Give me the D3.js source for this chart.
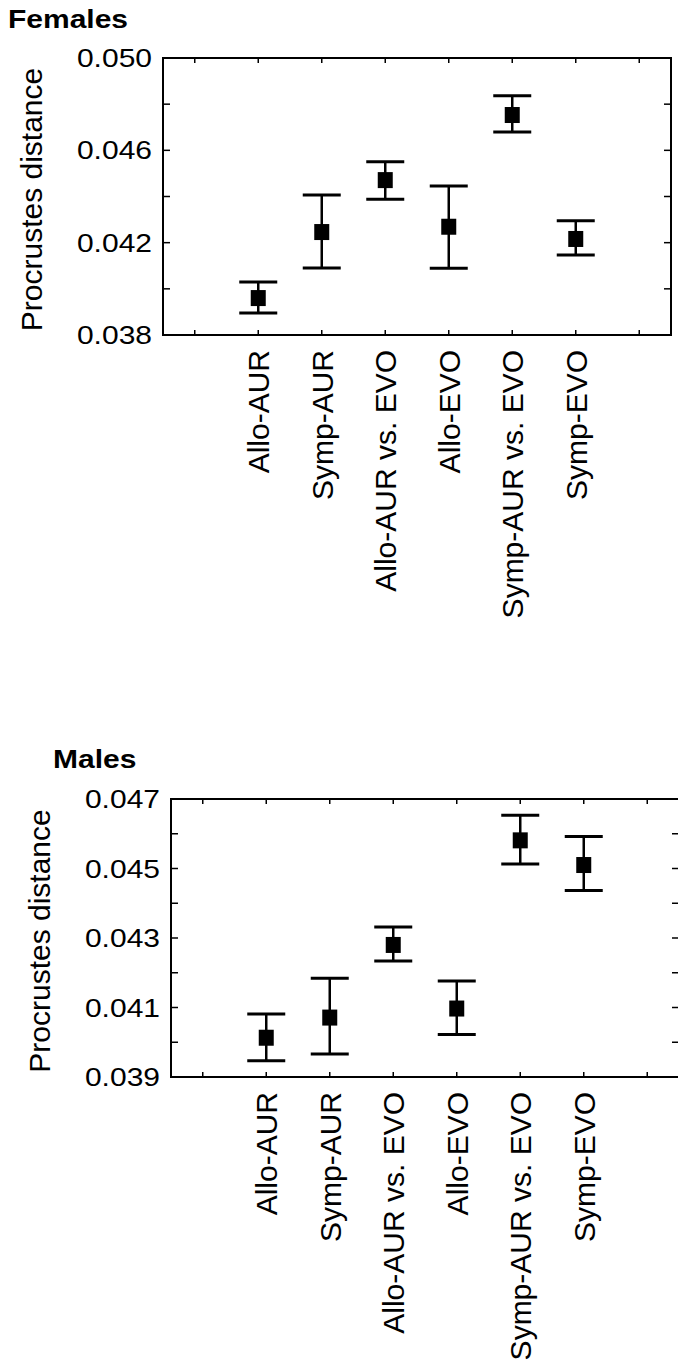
<!DOCTYPE html>
<html>
<head>
<meta charset="utf-8">
<script src="https://cdn.jsdelivr.net/npm/d3@7"></script>
<style>
  html, body { margin: 0; padding: 0; background: #fff; }
  svg { display: block; font-family: "Liberation Sans", Arial, sans-serif; }
</style>
</head>
<body>
<svg id="chart" width="678" height="1362"></svg>
<script>
// ---------- data ----------
const categories = ["Allo-AUR", "Symp-AUR", "Allo-AUR vs. EVO", "Allo-EVO", "Symp-AUR vs. EVO", "Symp-EVO"];

const femalesMean  = [0.03960, 0.04246, 0.04471, 0.04269, 0.04753, 0.04216];
const femalesUpper = [0.04030, 0.04407, 0.04551, 0.04445, 0.04837, 0.04295];
const femalesLower = [0.03895, 0.04090, 0.04388, 0.04089, 0.04679, 0.04147];

const malesMean  = [0.04013, 0.04071, 0.04280, 0.04097, 0.04581, 0.04510];
const malesUpper = [0.04081, 0.04184, 0.04332, 0.04176, 0.04653, 0.04592];
const malesLower = [0.03947, 0.03966, 0.04234, 0.04022, 0.04513, 0.04437];

const femalesTickLabels = [0.038, 0.042, 0.046, 0.050];
const femalesMinorTicks = [0.038, 0.040, 0.042, 0.044, 0.046, 0.048, 0.050];
const malesTickLabels = [0.039, 0.041, 0.043, 0.045, 0.047];
const malesMinorTicks = [0.039, 0.040, 0.041, 0.042, 0.043, 0.044, 0.045, 0.046, 0.047];

const femalesDomain = [0.038, 0.050];
const malesDomain = [0.039, 0.047];

const slots = ["pad-left", ...categories, "pad-right"];

// ---------- drawing ----------
const svg = d3.select("#chart");

function panel(cfg) {
  const g = svg.append("g");
  const x = d3.scaleBand().domain(slots).range([cfg.left, cfg.right]);
  const y = d3.scaleLinear().domain(cfg.domain).range([cfg.bottom, cfg.top]);
  const cx = d => x(d) + x.bandwidth() / 2;

  // frame
  g.append("rect")
    .attr("x", cfg.left).attr("y", cfg.top)
    .attr("width", cfg.right - cfg.left).attr("height", cfg.bottom - cfg.top)
    .attr("fill", "none").attr("stroke", "#000").attr("stroke-width", 2);

  // x ticks (top and bottom, inward)
  const xt = g.append("g").attr("stroke", "#000").attr("stroke-width", 1.5);
  slots.forEach(s => {
    xt.append("line").attr("x1", cx(s)).attr("x2", cx(s)).attr("y1", cfg.bottom).attr("y2", cfg.bottom - 5);
    xt.append("line").attr("x1", cx(s)).attr("x2", cx(s)).attr("y1", cfg.top).attr("y2", cfg.top + 5);
  });
  // y ticks (left and right, inward)
  cfg.minor.forEach(v => {
    xt.append("line").attr("x1", cfg.left).attr("x2", cfg.left + 7).attr("y1", y(v)).attr("y2", y(v));
    xt.append("line").attr("x1", cfg.right).attr("x2", cfg.right - 7).attr("y1", y(v)).attr("y2", y(v));
  });

  // y tick labels
  g.append("g").selectAll("text").data(cfg.labels).join("text")
    .attr("transform", d => `translate(${cfg.left - 11},${y(d) + 9}) scale(1.2,1)`)
    .attr("text-anchor", "end")
    .attr("font-size", 25)
    .text(d => d3.format(".3f")(d));

  // x tick labels (rotated)
  g.append("g").selectAll("text").data(categories).join("text")
    .attr("transform", d => `translate(${cx(d) + 11},${cfg.bottom + 15}) rotate(-90)`)
    .attr("text-anchor", "end")
    .attr("font-size", 30)
    .text(d => d);

  // y axis title
  g.append("text")
    .attr("transform", `translate(${cfg.ylabelX},${(cfg.top + cfg.bottom) / 2 + 3}) rotate(-90)`)
    .attr("text-anchor", "middle")
    .attr("font-size", 30)
    .text("Procrustes distance");

  // panel title
  g.append("text")
    .attr("transform", `translate(${cfg.titleX},${cfg.titleY}) scale(1.2,1)`)
    .attr("font-size", 25).attr("font-weight", "bold")
    .text(cfg.title);

  // error bars
  const rows = categories.map((c, i) => ({ c, m: cfg.mean[i], lo: cfg.lower[i], hi: cfg.upper[i] }));
  const eb = g.append("g").attr("stroke", "#000");
  eb.selectAll("line.v").data(rows).join("line").attr("class", "v")
    .attr("x1", d => cx(d.c)).attr("x2", d => cx(d.c))
    .attr("y1", d => y(d.lo)).attr("y2", d => y(d.hi))
    .attr("stroke-width", 2.5);
  eb.selectAll("line.hi").data(rows).join("line").attr("class", "hi")
    .attr("x1", d => cx(d.c) - 19).attr("x2", d => cx(d.c) + 19)
    .attr("y1", d => y(d.hi)).attr("y2", d => y(d.hi))
    .attr("stroke-width", 3);
  eb.selectAll("line.lo").data(rows).join("line").attr("class", "lo")
    .attr("x1", d => cx(d.c) - 19).attr("x2", d => cx(d.c) + 19)
    .attr("y1", d => y(d.lo)).attr("y2", d => y(d.lo))
    .attr("stroke-width", 3);
  g.append("g").selectAll("rect").data(rows).join("rect")
    .attr("x", d => cx(d.c) - 7.5).attr("y", d => y(d.m) - 8)
    .attr("width", 15).attr("height", 16)
    .attr("fill", "#000");
}

panel({
  title: "Females", titleX: 8, titleY: 28,
  left: 163, right: 671, top: 58, bottom: 335,
  domain: femalesDomain, labels: femalesTickLabels, minor: femalesMinorTicks,
  mean: femalesMean, upper: femalesUpper, lower: femalesLower,
  ylabelX: 42
});

panel({
  title: "Males", titleX: 53, titleY: 768,
  left: 171, right: 679, top: 799, bottom: 1077,
  domain: malesDomain, labels: malesTickLabels, minor: malesMinorTicks,
  mean: malesMean, upper: malesUpper, lower: malesLower,
  ylabelX: 50
});
</script>
</body>
</html>
